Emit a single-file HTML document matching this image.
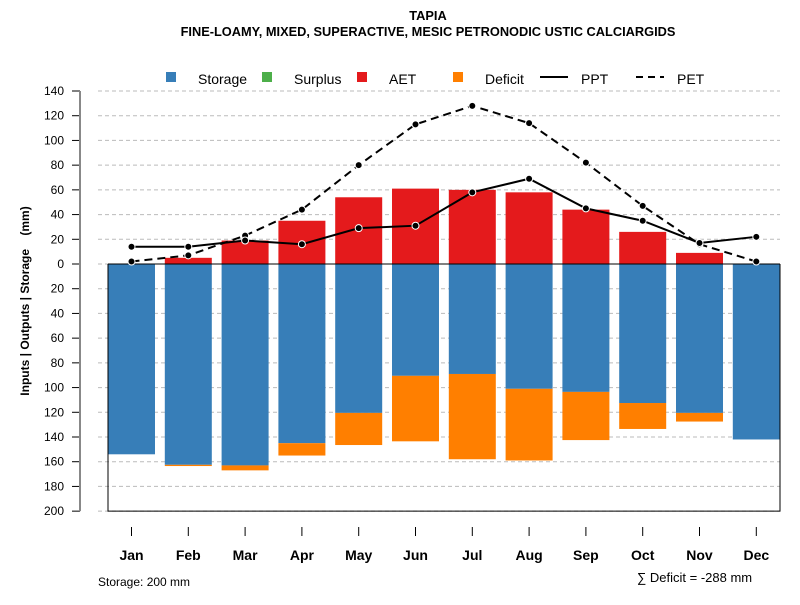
<!DOCTYPE html>
<html><head><meta charset="utf-8"><style>
body{margin:0;background:#fff;font-family:"Liberation Sans",sans-serif}
svg text{font-family:"Liberation Sans",sans-serif}
</style></head><body>
<svg id="chart" width="800" height="600" xmlns="http://www.w3.org/2000/svg">
<text x="428" y="20" text-anchor="middle" font-size="12.8" font-weight="bold">TAPIA</text>
<text x="428" y="36" text-anchor="middle" font-size="12.8" font-weight="bold">FINE-LOAMY, MIXED, SUPERACTIVE, MESIC PETRONODIC USTIC CALCIARGIDS</text>
<g id="legend" font-size="14">
<rect x="166" y="72" width="10" height="10" fill="#377eb8"/><text x="198" y="84">Storage</text>
<rect x="262" y="72" width="10" height="10" fill="#4daf4a"/><text x="294" y="84">Surplus</text>
<rect x="357" y="72" width="10" height="10" fill="#e41a1c"/><text x="389" y="84">AET</text>
<rect x="453" y="72" width="10" height="10" fill="#ff7f00"/><text x="485" y="84">Deficit</text>
<line x1="540" y1="77" x2="568" y2="77" stroke="#000" stroke-width="2"/><text x="581" y="84">PPT</text>
<line x1="636" y1="77" x2="664" y2="77" stroke="#000" stroke-width="2" stroke-dasharray="7,5"/><text x="677" y="84">PET</text>
</g>
<g id="grid"></g><g id="bars"></g><g id="frame"></g><g id="lines"></g><g id="axes"></g>
<text xml:space="preserve" style="white-space:pre" transform="translate(29,301) rotate(-90)" text-anchor="middle" font-size="12" font-weight="bold">Inputs | Outputs | Storage    (mm)</text>
<text x="98" y="586" font-size="12">Storage: 200 mm</text>
<text x="637" y="582" font-size="13">∑ Deficit = -288 mm</text>
</svg>
<script>
const months=["Jan","Feb","Mar","Apr","May","Jun","Jul","Aug","Sep","Oct","Nov","Dec"];
const storage=[154,162.5,163,145,120.5,90.5,89,101,103.5,112.5,120.5,142];
const deficit=[0,1,4,10,26,53,69,58,39,21,7,0];
const surplus=[0,0,0,0,0,0,0,0,0,0,0,0];
const aet=[0,5,19,35,54,61,60,58,44,26,9,0];
const ppt=[14,14,19,16,29,31,58,69,45,35,17,22];
const pet=[2,7,23,44,80,113,128,114,82,47,16,2];
const yTicks=[140,120,100,80,60,40,20,0,20,40,60,80,100,120,140,160,180,200];
const yVals=[140,120,100,80,60,40,20,0,-20,-40,-60,-80,-100,-120,-140,-160,-180,-200];
const NS="http://www.w3.org/2000/svg";
const y=v=>264-v*1.2357;
const x=i=>131.5+i*56.8;
const bw=47;
function mk(tag,attrs,parent){const e=document.createElementNS(NS,tag);for(const k in attrs)e.setAttribute(k,attrs[k]);document.getElementById(parent).appendChild(e);return e;}
yVals.forEach((v,i)=>{
 const g=mk("line",{x1:98,x2:780,y1:y(v),y2:y(v),stroke:"#bbb","stroke-dasharray":"4,3"},"grid");
 
 
 const t=mk("line",{x1:72,x2:80,y1:y(v),y2:y(v),stroke:"#000"},"axes");
 
 
 const l=mk("text",{x:64,y:y(v)+4,"text-anchor":"end","font-size":12},"axes");
 l.textContent=yTicks[i];
 
 
});
const ax=mk("line",{x1:80,x2:80,y1:y(140),y2:y(-200),stroke:"#888","stroke-width":2},"axes");


months.forEach((m,i)=>{
 const cx=x(i),l=cx-bw/2;
 const s=mk("rect",{x:l,y:y(0),width:bw,height:y(-storage[i])-y(0),fill:"#377eb8"},"bars");
 
 
 if(deficit[i]>0){const d=mk("rect",{x:l,y:y(-storage[i]),width:bw,height:y(-storage[i]-deficit[i])-y(-storage[i]),fill:"#ff7f00"},"bars");
 
 }
 if(aet[i]>0){const a=mk("rect",{x:l,y:y(aet[i]),width:bw,height:y(0)-y(aet[i]),fill:"#e41a1c"},"bars");
 
 }
 if(surplus[i]>0){const su=mk("rect",{x:l,y:y(aet[i]+surplus[i]),width:bw,height:y(aet[i])-y(aet[i]+surplus[i]),fill:"#4daf4a"},"bars");
 
 }
 const t=mk("line",{x1:cx,x2:cx,y1:527,y2:536,stroke:"#000"},"axes");
 
 
 const lb=mk("text",{x:cx,y:560,"text-anchor":"middle","font-size":14,"font-weight":"bold"},"axes");
 lb.textContent=m;
 
 
});
const fr=mk("path",{d:`M108 ${y(0)} V${y(-200)} H780 V${y(0)}`,fill:"none",stroke:"#000"},"frame");


const z=mk("line",{x1:108,x2:780,y1:y(0),y2:y(0),stroke:"#000"},"frame");


function series(arr,name,dash){
 const p=mk("polyline",{points:arr.map((v,i)=>x(i)+","+y(v)).join(" "),fill:"none",stroke:"#000","stroke-width":2,"stroke-dasharray":dash},"lines");
 
 
 arr.forEach((v,i)=>{const c=mk("circle",{cx:x(i),cy:y(v),r:3.5,fill:"#000",stroke:"#fff","stroke-width":1},"lines");
 
 });
}
series(pet,"pet","8,5");
series(ppt,"ppt","none");
</script>
</body></html>
